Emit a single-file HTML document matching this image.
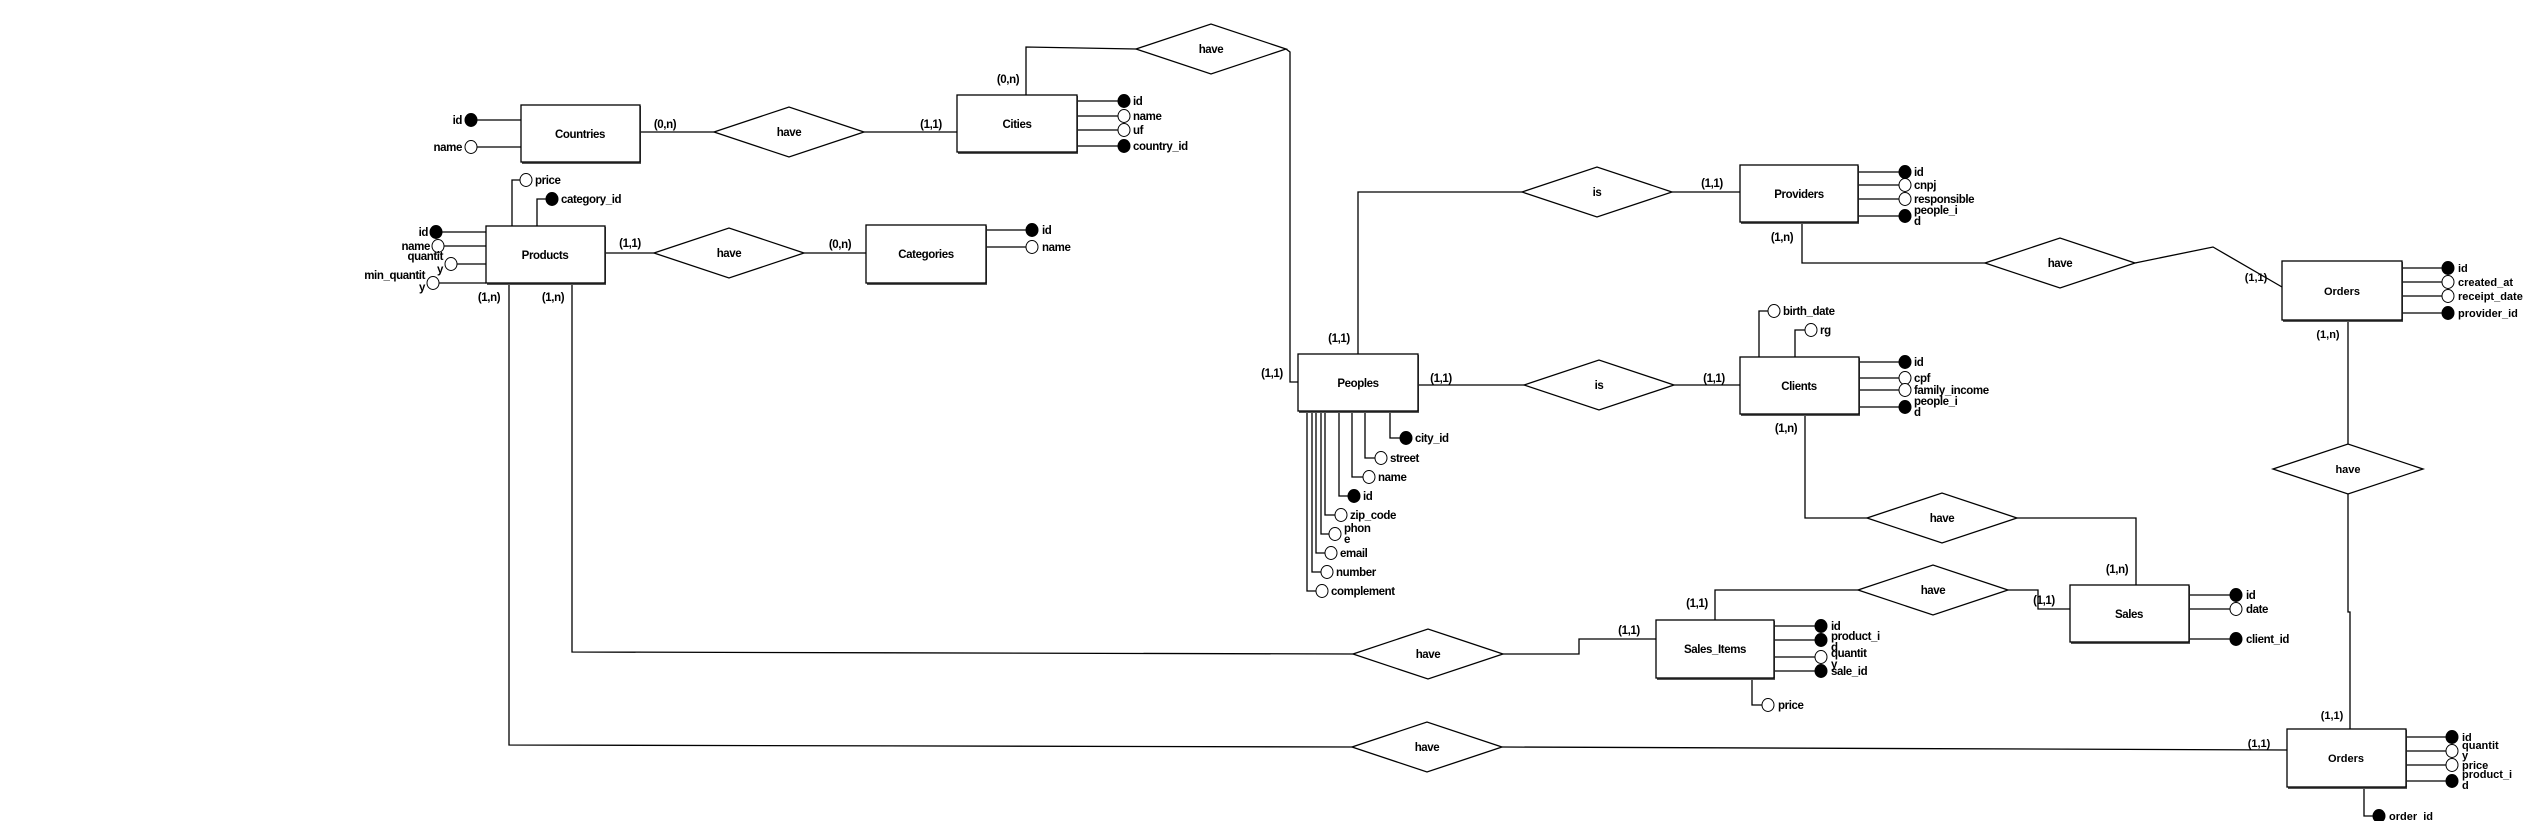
<!DOCTYPE html>
<html><head><meta charset="utf-8"><style>
html,body{margin:0;padding:0;background:#fff;}
svg{display:block;}
text{font-family:"Liberation Sans Narrow","Liberation Sans",sans-serif;font-weight:bold;font-size:11.5px;letter-spacing:-0.4px;fill:#000;}
.w{font-family:"Liberation Sans",sans-serif;font-size:11px;letter-spacing:0;}
.l{fill:none;stroke:#000;stroke-width:1.3;}
.sh{fill:#555;}
.b{fill:#fff;stroke:#000;stroke-width:1.3;}
.f{fill:#000;stroke:#000;}
.o{fill:#fff;stroke:#000;stroke-width:1;}
</style></head><body>
<svg width="2536" height="821" viewBox="0 0 2536 821" xmlns="http://www.w3.org/2000/svg">
<g class="l">
<path d="M640 132H714M864 132H957"/>
<path d="M1026 95V47L1136 49"/>
<path d="M1286 49L1290 52V382H1298"/>
<path d="M605 253H654M804 253H866"/>
<path d="M1358 354V192H1522M1672 192H1740"/>
<path d="M1418 385H1524M1674 385H1740"/>
<path d="M1802 222V263H1985M2135 263L2213 247L2282 287"/>
<path d="M1805 414V518H1867M2017 518H2136V585"/>
<path d="M1715 620V590H1858M2008 590H2038V609H2070"/>
<path d="M572 283V652L1353 654M1503 654H1579V639H1656"/>
<path d="M509 283V745L1352 747M1502 747L2287 750"/>
<path d="M2348 320V444M2348 494V612H2350V729"/>
<path d="M477 120H521M477 147H521"/>
<path d="M1077 101H1118M1077 116H1118M1077 130H1118M1077 146H1118"/>
<path d="M512 226V180H520M537 226V199H546"/>
<path d="M442 232H486M444 246H486M457 264H486M439 283H486"/>
<path d="M986 230H1026M986 247H1026"/>
<path d="M1858 172H1899M1858 185H1899M1858 199H1899M1858 216H1899"/>
<path d="M1859 362H1899M1859 378H1899M1859 390H1899M1859 407H1899"/>
<path d="M1759 357V311H1768M1795 357V330H1805"/>
<path d="M1390 411V438H1400M1365 411V458H1375M1352 411V477H1363M1339 411V496H1348M1325 411V515H1335M1321 411V534H1329M1316 411V553H1325M1312 411V572H1321M1307 411V591H1316"/>
<path d="M1774 626H1815M1774 640H1815M1774 657H1815M1774 671H1815M1752 678V705H1762"/>
<path d="M2189 595H2230M2189 609H2230M2189 639H2230"/>
<path d="M2402 268H2442M2402 282H2442M2402 296H2442M2402 313H2442"/>
<path d="M2406 737H2446M2406 751H2446M2406 765H2446M2406 781H2446M2364 787V816H2373"/>
</g>
<g class="b">
<polygon points="714,132 789,107 864,132 789,157"/>
<polygon points="1136,49 1211,24 1286,49 1211,74"/>
<polygon points="654,253 729,228 804,253 729,278"/>
<polygon points="1522,192 1597,167 1672,192 1597,217"/>
<polygon points="1985,263 2060,238 2135,263 2060,288"/>
<polygon points="1524,385 1599,360 1674,385 1599,410"/>
<polygon points="1867,518 1942,493 2017,518 1942,543"/>
<polygon points="1858,590 1933,565 2008,590 1933,615"/>
<polygon points="2273,469 2348,444 2423,469 2348,494"/>
<polygon points="1353,654 1428,629 1503,654 1428,679"/>
<polygon points="1352,747 1427,722 1502,747 1427,772"/>
</g>
<g text-anchor="middle">
<text x="789" y="136">have</text><text x="1211" y="53">have</text><text x="729" y="257">have</text>
<text x="1597" y="196">is</text><text x="2060" y="267">have</text><text x="1599" y="389">is</text>
<text x="1942" y="522">have</text><text x="1933" y="594">have</text><text x="2348" y="473" class="w">have</text>
<text x="1428" y="658">have</text><text x="1427" y="751">have</text>
</g>
<g>
<rect class="sh" x="522" y="106" width="119" height="58"/><rect class="b" x="521" y="105" width="119" height="57"/>
<rect class="sh" x="958" y="96" width="120" height="58"/><rect class="b" x="957" y="95" width="120" height="57"/>
<rect class="sh" x="487" y="227" width="119" height="58"/><rect class="b" x="486" y="226" width="119" height="57"/>
<rect class="sh" x="867" y="226" width="120" height="59"/><rect class="b" x="866" y="225" width="120" height="58"/>
<rect class="sh" x="1299" y="355" width="120" height="58"/><rect class="b" x="1298" y="354" width="120" height="57"/>
<rect class="sh" x="1741" y="166" width="118" height="58"/><rect class="b" x="1740" y="165" width="118" height="57"/>
<rect class="sh" x="1741" y="358" width="119" height="58"/><rect class="b" x="1740" y="357" width="119" height="57"/>
<rect class="sh" x="1657" y="621" width="118" height="59"/><rect class="b" x="1656" y="620" width="118" height="58"/>
<rect class="sh" x="2071" y="586" width="119" height="58"/><rect class="b" x="2070" y="585" width="119" height="57"/>
<rect class="sh" x="2283" y="262" width="120" height="60"/><rect class="b" x="2282" y="261" width="120" height="59"/>
<rect class="sh" x="2288" y="730" width="119" height="59"/><rect class="b" x="2287" y="729" width="119" height="58"/>
</g>
<g text-anchor="middle">
<text x="580" y="138">Countries</text><text x="1017" y="128">Cities</text><text x="545" y="259">Products</text>
<text x="926" y="258">Categories</text><text x="1358" y="387">Peoples</text><text x="1799" y="198">Providers</text>
<text x="1799" y="390">Clients</text><text x="1715" y="653">Sales_Items</text><text x="2129" y="618">Sales</text>
<text x="2342" y="295" class="w">Orders</text><text x="2346" y="762" class="w">Orders</text>
</g>
<g>
<ellipse class="f" cx="471" cy="120" rx="6" ry="6.5"/><ellipse class="o" cx="471" cy="147" rx="6" ry="6.5"/>
<ellipse class="f" cx="1124" cy="101" rx="6" ry="6.5"/><ellipse class="o" cx="1124" cy="116" rx="6" ry="6.5"/><ellipse class="o" cx="1124" cy="130" rx="6" ry="6.5"/><ellipse class="f" cx="1124" cy="146" rx="6" ry="6.5"/>
<ellipse class="o" cx="526" cy="180" rx="6" ry="6.5"/><ellipse class="f" cx="552" cy="199" rx="6" ry="6.5"/>
<ellipse class="f" cx="436" cy="232" rx="6" ry="6.5"/><ellipse class="o" cx="438" cy="246" rx="6" ry="6.5"/><ellipse class="o" cx="451" cy="264" rx="6" ry="6.5"/><ellipse class="o" cx="433" cy="283" rx="6" ry="6.5"/>
<ellipse class="f" cx="1032" cy="230" rx="6" ry="6.5"/><ellipse class="o" cx="1032" cy="247" rx="6" ry="6.5"/>
<ellipse class="f" cx="1905" cy="172" rx="6" ry="6.5"/><ellipse class="o" cx="1905" cy="185" rx="6" ry="6.5"/><ellipse class="o" cx="1905" cy="199" rx="6" ry="6.5"/><ellipse class="f" cx="1905" cy="216" rx="6" ry="6.5"/>
<ellipse class="f" cx="1905" cy="362" rx="6" ry="6.5"/><ellipse class="o" cx="1905" cy="378" rx="6" ry="6.5"/><ellipse class="o" cx="1905" cy="390" rx="6" ry="6.5"/><ellipse class="f" cx="1905" cy="407" rx="6" ry="6.5"/>
<ellipse class="o" cx="1774" cy="311" rx="6" ry="6.5"/><ellipse class="o" cx="1811" cy="330" rx="6" ry="6.5"/>
<ellipse class="f" cx="1406" cy="438" rx="6" ry="6.5"/><ellipse class="o" cx="1381" cy="458" rx="6" ry="6.5"/><ellipse class="o" cx="1369" cy="477" rx="6" ry="6.5"/><ellipse class="f" cx="1354" cy="496" rx="6" ry="6.5"/><ellipse class="o" cx="1341" cy="515" rx="6" ry="6.5"/><ellipse class="o" cx="1335" cy="534" rx="6" ry="6.5"/><ellipse class="o" cx="1331" cy="553" rx="6" ry="6.5"/><ellipse class="o" cx="1327" cy="572" rx="6" ry="6.5"/><ellipse class="o" cx="1322" cy="591" rx="6" ry="6.5"/>
<ellipse class="f" cx="1821" cy="626" rx="6" ry="6.5"/><ellipse class="f" cx="1821" cy="640" rx="6" ry="6.5"/><ellipse class="o" cx="1821" cy="657" rx="6" ry="6.5"/><ellipse class="f" cx="1821" cy="671" rx="6" ry="6.5"/>
<ellipse class="o" cx="1768" cy="705" rx="6" ry="6.5"/>
<ellipse class="f" cx="2236" cy="595" rx="6" ry="6.5"/><ellipse class="o" cx="2236" cy="609" rx="6" ry="6.5"/><ellipse class="f" cx="2236" cy="639" rx="6" ry="6.5"/>
<ellipse class="f" cx="2448" cy="268" rx="6" ry="6.5"/><ellipse class="o" cx="2448" cy="282" rx="6" ry="6.5"/><ellipse class="o" cx="2448" cy="296" rx="6" ry="6.5"/><ellipse class="f" cx="2448" cy="313" rx="6" ry="6.5"/>
<ellipse class="f" cx="2452" cy="737" rx="6" ry="6.5"/><ellipse class="o" cx="2452" cy="751" rx="6" ry="6.5"/><ellipse class="o" cx="2452" cy="765" rx="6" ry="6.5"/><ellipse class="f" cx="2452" cy="781" rx="6" ry="6.5"/>
<ellipse class="f" cx="2379" cy="816" rx="6" ry="6.5"/>
</g>
<g text-anchor="end">
<text x="462" y="124">id</text><text x="462" y="151">name</text>
<text x="428" y="236">id</text><text x="430" y="250">name</text>
<text x="443" y="260">quantit</text><text x="443" y="273">y</text>
<text x="425" y="279">min_quantit</text><text x="425" y="291">y</text>
</g>
<g>
<text x="1133" y="105">id</text><text x="1133" y="120">name</text><text x="1133" y="134">uf</text><text x="1133" y="150">country_id</text>
<text x="535" y="184">price</text><text x="561" y="203">category_id</text>
<text x="1042" y="234">id</text><text x="1042" y="251">name</text>
<text x="1914" y="176">id</text><text x="1914" y="189">cnpj</text><text x="1914" y="203">responsible</text><text x="1914" y="214">people_i</text><text x="1914" y="225">d</text>
<text x="1914" y="366">id</text><text x="1914" y="382">cpf</text><text x="1914" y="394">family_income</text><text x="1914" y="405">people_i</text><text x="1914" y="416">d</text>
<text x="1783" y="315">birth_date</text><text x="1820" y="334">rg</text>
<text x="1415" y="442">city_id</text><text x="1390" y="462">street</text><text x="1378" y="481">name</text><text x="1363" y="500">id</text><text x="1350" y="519">zip_code</text><text x="1344" y="532">phon</text><text x="1344" y="543">e</text><text x="1340" y="557">email</text><text x="1336" y="576">number</text><text x="1331" y="595">complement</text>
<text x="1831" y="630">id</text><text x="1831" y="640">product_i</text><text x="1831" y="651">d</text><text x="1831" y="657">quantit</text><text x="1831" y="668">y</text><text x="1831" y="675">sale_id</text>
<text x="1778" y="709">price</text>
<text x="2246" y="599">id</text><text x="2246" y="613">date</text><text x="2246" y="643">client_id</text>
<text class="w" x="2458" y="272">id</text><text class="w" x="2458" y="286">created_at</text><text class="w" x="2458" y="300">receipt_date</text><text class="w" x="2458" y="317">provider_id</text>
<text class="w" x="2462" y="741">id</text><text class="w" x="2462" y="749">quantit</text><text class="w" x="2462" y="759">y</text><text class="w" x="2462" y="769">price</text><text class="w" x="2462" y="778">product_i</text><text class="w" x="2462" y="789">d</text>
<text class="w" x="2389" y="820">order_id</text>
</g>
<g text-anchor="middle">
<text x="665" y="128">(0,n)</text><text x="931" y="128">(1,1)</text><text x="1008" y="83">(0,n)</text>
<text x="630" y="247">(1,1)</text><text x="840" y="248">(0,n)</text>
<text x="489" y="301">(1,n)</text><text x="553" y="301">(1,n)</text>
<text x="1272" y="377">(1,1)</text><text x="1339" y="342">(1,1)</text><text x="1712" y="187">(1,1)</text>
<text x="1782" y="241">(1,n)</text><text x="1441" y="382">(1,1)</text><text x="1714" y="382">(1,1)</text>
<text x="1786" y="432">(1,n)</text><text x="2117" y="573">(1,n)</text><text x="1697" y="607">(1,1)</text>
<text x="2044" y="604">(1,1)</text><text x="1629" y="634">(1,1)</text>
<text class="w" x="2256" y="281">(1,1)</text><text class="w" x="2328" y="338">(1,n)</text>
<text class="w" x="2332" y="719">(1,1)</text><text class="w" x="2259" y="747">(1,1)</text>
</g>
</svg>
</body></html>
